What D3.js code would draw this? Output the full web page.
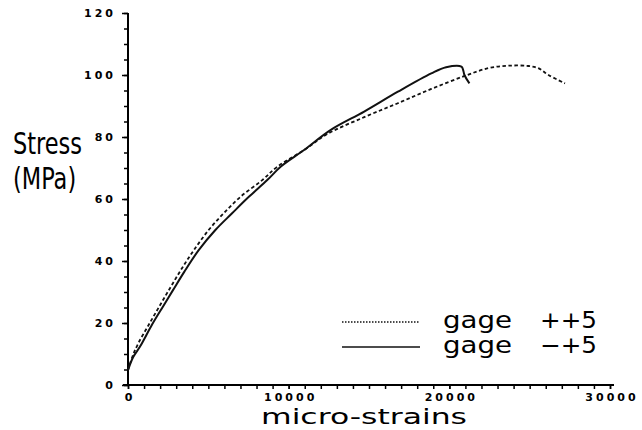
<!DOCTYPE html>
<html>
<head>
<meta charset="utf-8">
<script src="https://cdn.jsdelivr.net/npm/d3@7"></script>
<style>
  body { margin: 0; background: #fff; }
  svg { display: block; }
</style>
</head>
<body>
<svg id="chart" width="642" height="430"></svg>
<script>
// gage ++5 (dotted)
const strainPlus = [0, 300, 646, 1300, 2000, 2700, 3400, 4100, 5021, 5958, 7000, 8354, 9292, 10958, 12417,
    14700, 16800, 18875, 20960, 22420, 23670, 24920, 25540, 26170, 27200];
const stressPlus = [4.8, 9.5, 13.5, 19.5, 25.8, 32.0, 38.0, 43.5, 50.0, 55.4, 60.7, 66.1, 70.4, 75.8, 81.0,
    86.4, 90.9, 95.5, 99.7, 102.2, 103.0, 102.9, 102.2, 100.0, 97.3];

// gage -+5 (solid)
const strainMinus = [0, 333, 750, 1500, 2200, 2800, 3500, 4400, 5438, 6479, 7521, 8667, 9500, 10958, 12625,
    14700, 16800, 18875, 19800, 20750, 20860, 20940, 21250];
const stressMinus = [4.8, 9.1, 12.4, 19.5, 25.5, 30.6, 36.5, 43.5, 50.0, 55.4, 60.7, 66.1, 70.4, 75.8, 82.3,
    88.2, 94.6, 100.5, 102.5, 102.7, 101.6, 100.0, 97.3];

const xTicks = [0, 10000, 20000, 30000];
const yTicks = [0, 20, 40, 60, 80, 100, 120];

const svg = d3.select("#chart");
const font = "'DejaVu Sans', sans-serif";
const fontCond = "'DejaVu Sans Condensed', 'DejaVu Sans', sans-serif";

const x = d3.scaleLinear().domain([0, 30000]).range([128, 610]);
const y = d3.scaleLinear().domain([0, 120]).range([385, 13]);

const plus = strainPlus.map((s, i) => [s, stressPlus[i]]);
const minus = strainMinus.map((s, i) => [s, stressMinus[i]]);

// оси: мелкие деления
svg.append("g")
    .attr("transform", "translate(0,385)")
    .call(d3.axisBottom(x).tickValues(d3.range(0, 30001, 1000)).tickSize(4).tickFormat(""))
    .call(g => g.select(".domain").attr("d", "M123,0H614").attr("stroke-width", 2))
    .call(g => g.selectAll(".tick line").attr("stroke-width", 1.5));

svg.append("g")
    .attr("transform", "translate(128,0)")
    .call(d3.axisLeft(y).tickValues(d3.range(0, 121, 5)).tickSize(4).tickFormat(""))
    .call(g => g.select(".domain").attr("d", "M0,386V13").attr("stroke-width", 2))
    .call(g => g.selectAll(".tick line").attr("stroke-width", 1.5));

// подписи делений
svg.append("g")
    .attr("transform", "translate(0,385)")
    .call(d3.axisBottom(x).tickValues(xTicks).tickSize(4).tickPadding(4).tickFormat(d3.format("d")))
    .call(g => g.select(".domain").remove())
    .call(g => g.selectAll(".tick line").attr("stroke-width", 1.5))
    .call(g => g.selectAll("text")
        .attr("dx", 1.5)
        .style("font", "bold 11px " + font)
        .style("letter-spacing", "3px"));

svg.append("g")
    .attr("transform", "translate(128,0)")
    .call(d3.axisLeft(y).tickValues(yTicks).tickSize(6).tickPadding(9))
    .call(g => g.select(".domain").remove())
    .call(g => g.selectAll(".tick line").attr("stroke-width", 1.5))
    .call(g => g.selectAll("text")
        .attr("dx", 3)
        .style("font", "bold 11px " + font)
        .style("letter-spacing", "3px"));

// кривые
const line = d3.line()
    .x(d => x(d[0]))
    .y(d => y(d[1]))
    .curve(d3.curveCatmullRom.alpha(0.5));

svg.append("path")
    .datum(plus)
    .attr("fill", "none")
    .attr("stroke", "#111")
    .attr("stroke-width", 1.8)
    .attr("stroke-dasharray", "3.5,2.5")
    .attr("d", line);

svg.append("path")
    .datum(minus)
    .attr("fill", "none")
    .attr("stroke", "#111")
    .attr("stroke-width", 2)
    .attr("d", line);

// подписи осей (узкий шрифт, растянут по высоте)
svg.append("text")
    .attr("transform", "translate(13,154) scale(1,1.2)")
    .style("font", "25px " + fontCond)
    .text("Stress");

svg.append("text")
    .attr("transform", "translate(13,189) scale(1,1.2)")
    .style("font", "25px " + fontCond)
    .text("(MPa)");

svg.append("text")
    .attr("x", 261).attr("y", 424)
    .attr("textLength", 206).attr("lengthAdjust", "spacingAndGlyphs")
    .style("font", "21px " + font)
    .text("micro-strains");

// легенда
const legend = [
    { name: "gage", code: "++5", dash: "1.5,1.5", width: 1.3, y: 328 },
    { name: "gage", code: "\u2212+5", dash: null, width: 1.6, y: 353 }
];

const leg = svg.append("g").selectAll("g")
    .data(legend)
    .enter().append("g");

leg.append("line")
    .attr("x1", 342).attr("x2", 420)
    .attr("y1", d => d.y - 6).attr("y2", d => d.y - 6)
    .attr("stroke", "#111")
    .attr("stroke-width", d => d.width)
    .attr("stroke-dasharray", d => d.dash);

leg.append("text")
    .attr("x", 443).attr("y", d => d.y)
    .attr("textLength", 69).attr("lengthAdjust", "spacingAndGlyphs")
    .style("font", "23px " + font)
    .text(d => d.name);

leg.append("text")
    .attr("x", 540).attr("y", d => d.y)
    .attr("textLength", 57).attr("lengthAdjust", "spacingAndGlyphs")
    .style("font", "23px " + font)
    .text(d => d.code);
</script>
</body>
</html>
